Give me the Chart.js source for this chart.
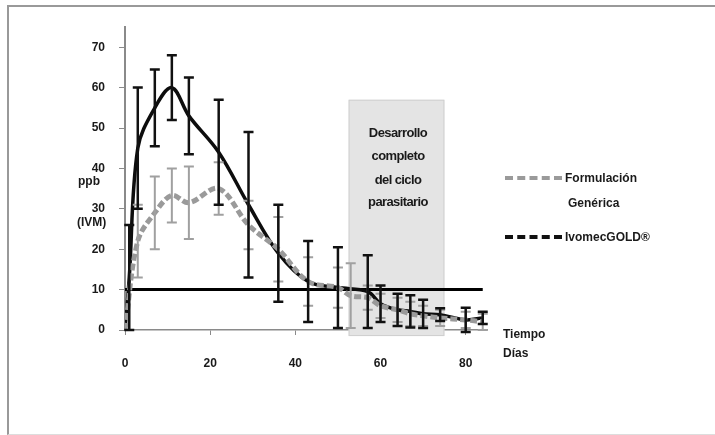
<!DOCTYPE html>
<html>
<head>
<meta charset="utf-8">
<script src="https://cdn.jsdelivr.net/npm/chart.js@4.4.1/dist/chart.umd.min.js"></script>
<style>
  html, body { margin: 0; padding: 0; background: #fff; overflow: hidden; }
  #wrap { position: relative; width: 715px; height: 435px; overflow: hidden;
          font-family: "Liberation Sans", Arial, sans-serif; font-weight: bold; color: #1a1a1a; }
  #frame { position: absolute; left: 7px; top: 5px; width: 800px; height: 427px;
           border-left: 2px solid #999; border-top: 2px solid #999; border-bottom: 1px solid #ddd; }
  canvas { position: absolute; left: 0; top: 0; }
  .lbl { position: absolute; font-size: 12px; line-height: 14px; white-space: nowrap; }
  .band { position: absolute; left: 350px; width: 96px; text-align: center; font-size: 13px; letter-spacing: -0.6px; }
  .swatch { position: absolute; left: 505px; width: 57px; height: 0; }
</style>
</head>
<body>
<div id="wrap">
  <div id="frame"></div>
  <canvas id="chart" width="715" height="435"></canvas>
  <div class="lbl" style="left:78px;top:174px;">ppb</div>
  <div class="lbl" style="left:77px;top:215px;">(IVM)</div>
  <div class="lbl" style="left:503px;top:327px;">Tiempo</div>
  <div class="lbl" style="left:503px;top:346px;">Días</div>
  <div class="lbl band" style="top:126px;">Desarrollo</div>
  <div class="lbl band" style="top:149px;">completo</div>
  <div class="lbl band" style="top:173px;">del ciclo</div>
  <div class="lbl band" style="top:195px;">parasitario</div>
  <div class="swatch" style="top:176px;border-top:4px dashed #9a9a9a;"></div>
  <div class="lbl" style="left:565px;top:171px;">Formulación</div>
  <div class="lbl" style="left:568px;top:196px;">Genérica</div>
  <div class="swatch" style="top:235px;border-top:4px dashed #111;"></div>
  <div class="lbl" style="left:565px;top:230px;">IvomecGOLD®</div>
</div>
<script>
// ── Data ───────────────────────────────────────────────────────────
const ivoDays = [0, 1, 3, 7, 11, 15, 22, 29, 36, 43, 50, 57, 60, 64, 67, 70, 74, 80, 84];
const ivoMean = [0, 13, 45, 55, 60, 53, 44, 31, 19, 12, 10.5, 9.5, 6.5, 5, 4.6, 4, 3.8, 2.5, 3];
const ivoErr  = [0, 13, 15, 9.5, 8, 9.5, 13, 18, 12, 10, 10, 9, 4.5, 4, 4, 3.5, 1.6, 3, 1.5];

const genDays = [0, 3, 7, 11, 15, 22, 29, 36, 43, 50, 53, 57, 60, 64, 67, 70, 74, 80, 84];
const genMean = [0, 22, 29, 33.3, 31.5, 35, 26, 20, 12, 10.5, 8.5, 8, 6, 5, 4, 3.5, 3, 2.5, 2];
const genErr  = [0, 9, 9, 6.7, 9, 6.5, 6, 8, 6, 5, 8, 3, 3, 3, 3, 2.5, 2, 2, 2];

const refLevel = 10;          // horizontal reference line (ppb)
const refDays = [0, 84];
const bandDays = [52.5, 75];  // "Desarrollo completo del ciclo parasitario"
const bandRange = [-1.5, 57];

const xTicks = [0, 20, 40, 60, 80];
const yTicks = [0, 10, 20, 30, 40, 50, 60, 70];

const toPts = (xs, ys) => xs.map((d, i) => ({ x: d, y: ys[i] }));

// ── Plugins ────────────────────────────────────────────────────────
const bandPlugin = {
  id: 'band',
  beforeDatasetsDraw(chart) {
    const { ctx, scales: { x, y } } = chart;
    const l = x.getPixelForValue(bandDays[0]), r = x.getPixelForValue(bandDays[1]);
    const t = y.getPixelForValue(bandRange[1]), b = y.getPixelForValue(bandRange[0]);
    ctx.save();
    ctx.fillStyle = '#e4e4e4';
    ctx.fillRect(l, t, r - l, b - t);
    ctx.strokeStyle = '#cfcfcf';
    ctx.lineWidth = 1;
    ctx.strokeRect(l + 0.5, t + 0.5, r - l - 1, b - t - 1);
    ctx.restore();
  }
};

const errorBars = {
  id: 'errorBars',
  afterDatasetsDraw(chart) {
    const { ctx, scales: { x, y } } = chart;
    chart.data.datasets.forEach(ds => {
      if (!ds.errors) return;
      ctx.save();
      ctx.strokeStyle = ds.errColor;
      ctx.lineWidth = ds.errWidth;
      ds.data.forEach((p, i) => {
        const e = ds.errors[i];
        if (!e) return;
        const px = x.getPixelForValue(p.x);
        const top = y.getPixelForValue(p.y + e);
        const bot = y.getPixelForValue(p.y - e);
        ctx.beginPath();
        ctx.moveTo(px, top); ctx.lineTo(px, bot);
        ctx.moveTo(px - 5, top); ctx.lineTo(px + 5, top);
        ctx.moveTo(px - 5, bot); ctx.lineTo(px + 5, bot);
        ctx.stroke();
      });
      ctx.restore();
    });
  }
};

// ── Chart ──────────────────────────────────────────────────────────
const tickFont = { family: 'Liberation Sans', size: 12, weight: 'bold' };

new Chart(document.getElementById('chart'), {
  type: 'line',
  data: {
    datasets: [
      {
        label: 'Formulación Genérica',
        data: toPts(genDays, genMean),
        borderColor: '#9a9a9a',
        borderWidth: 5,
        borderDash: [7, 3],
        tension: 0.35,
        pointRadius: 0,
        errors: genErr, errColor: '#a0a0a0', errWidth: 2,
      },
      {
        label: 'IvomecGOLD®',
        data: toPts(ivoDays, ivoMean),
        borderColor: '#0d0d0d',
        borderWidth: 3.5,
        tension: 0.35,
        pointRadius: 0,
        errors: ivoErr, errColor: '#111', errWidth: 2.5,
      },
      {
        label: 'ref',
        data: toPts(refDays, [refLevel, refLevel]),
        borderColor: '#000',
        borderWidth: 3,
        pointRadius: 0,
      }
    ]
  },
  options: {
    responsive: false,
    animation: false,
    layout: { padding: { top: 27, right: 228, left: 0, bottom: 0 } },
    plugins: { legend: { display: false }, tooltip: { enabled: false } },
    scales: {
      x: {
        type: 'linear', min: 0, max: 85,
        afterBuildTicks: s => { s.ticks = xTicks.map(v => ({ value: v })); },
        afterFit: s => { s.height = 105; },
        border: { color: '#8a8a8a', width: 1.5 },
        grid: { drawOnChartArea: false, tickLength: 5, color: '#8a8a8a' },
        ticks: { color: '#1a1a1a', font: tickFont, padding: 21, maxRotation: 0 }
      },
      y: {
        min: 0, max: 75,
        afterBuildTicks: s => { s.ticks = yTicks.map(v => ({ value: v })); },
        afterFit: s => { s.width = 125; },
        border: { color: '#8a8a8a', width: 2 },
        grid: { drawOnChartArea: false, tickLength: 6, color: '#8a8a8a' },
        ticks: { color: '#1a1a1a', font: tickFont, padding: 14 }
      }
    }
  },
  plugins: [bandPlugin, errorBars]
});
</script>
</body>
</html>
